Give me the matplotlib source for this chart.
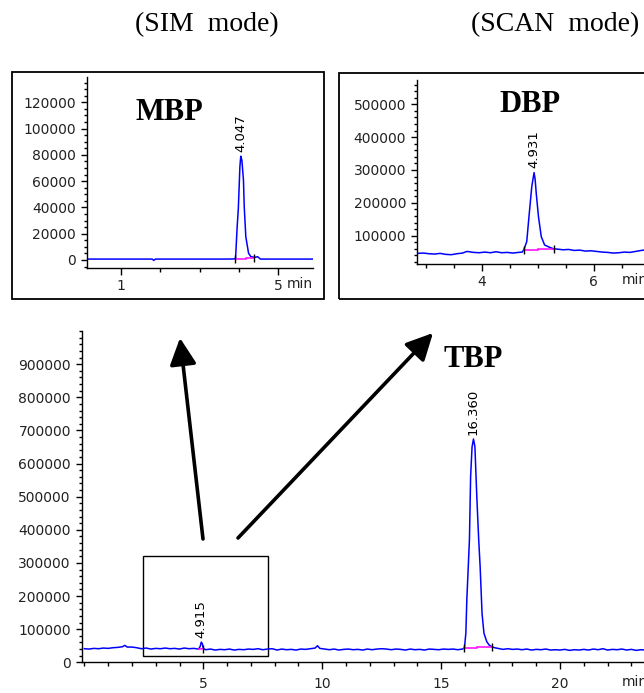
import matplotlib
matplotlib.use("Agg")
import matplotlib.pyplot as plt
from matplotlib.patches import Rectangle, FancyArrowPatch
from matplotlib.ticker import MultipleLocator, FixedLocator

# ---------------- data ----------------
# Main chromatogram (SCAN, full run)
main_t = [0.0, 0.2, 0.4, 0.6, 0.8, 1.0, 1.2, 1.4, 1.6, 1.7, 1.8, 2.0, 2.2, 2.4, 2.6, 2.8,
          3.0, 3.2, 3.4, 3.6, 3.8, 4.0, 4.2, 4.4, 4.6, 4.8, 4.87, 4.915, 4.96, 5.0, 5.1,
          5.3, 5.5, 5.7, 5.9, 6.1, 6.3, 6.5, 6.7, 6.9, 7.1, 7.3, 7.5, 7.7, 7.9, 8.1, 8.3,
          8.5, 8.7, 8.9, 9.1, 9.3, 9.5, 9.7, 9.8, 9.9, 10.1, 10.3, 10.5, 10.7, 10.9, 11.1,
          11.3, 11.5, 11.7, 11.9, 12.1, 12.3, 12.5, 12.7, 12.9, 13.1, 13.3, 13.5, 13.7,
          13.9, 14.1, 14.3, 14.5, 14.7, 14.9, 15.1, 15.3, 15.5, 15.7, 15.9, 15.98, 16.04,
          16.08, 16.19, 16.24, 16.30, 16.36, 16.42, 16.50, 16.58, 16.64, 16.72, 16.80,
          16.92, 17.02, 17.13, 17.25, 17.4, 17.6, 17.8, 18.0, 18.2, 18.4, 18.6, 18.8, 19.0,
          19.2, 19.4, 19.6, 19.8, 20.0, 20.2, 20.4, 20.6, 20.8, 21.0, 21.2, 21.4, 21.6,
          21.8, 22.0, 22.2, 22.4, 22.6, 22.8, 23.0, 23.2, 23.4, 23.6]
main_y = [41000, 40000, 42000, 41000, 43000, 42000, 44000, 45000, 47000, 51000, 46000,
          46000, 44000, 41000, 43000, 40000, 42000, 41000, 43000, 41000, 42000, 40000,
          43000, 41000, 42000, 40000, 48000, 61000, 56000, 42000, 38000, 40000, 37000,
          39000, 38000, 40000, 37000, 39000, 38000, 40000, 39000, 41000, 38000, 40000,
          41000, 37000, 40000, 38000, 39000, 37000, 40000, 39000, 41000, 43000, 50000,
          42000, 40000, 38000, 40000, 37000, 39000, 40000, 38000, 39000, 37000, 40000,
          38000, 40000, 41000, 40000, 38000, 40000, 39000, 37000, 40000, 38000, 39000,
          37000, 40000, 39000, 38000, 40000, 39000, 40000, 38000, 40000, 43000, 88000,
          188000, 370000, 561000, 650000, 674000, 651000, 500000, 370000, 289000, 148000,
          88000, 62000, 52000, 47000, 44000, 42000, 39000, 41000, 39000, 40000, 38000,
          40000, 37000, 39000, 38000, 40000, 37000, 38000, 37000, 39000, 36000, 38000,
          37000, 39000, 37000, 40000, 38000, 41000, 37000, 39000, 38000, 40000, 37000,
          39000, 36000, 38000, 37000]
main_peaks = ["4.915", "16.360"]
main_peak_t = [4.915, 16.36]
main_peak_y = [61000, 674000]
main_base_t = [[4.78, 5.0], [15.98, 16.50], [16.50, 17.13]]
main_base_y = [[40000, 41000], [42000, 42000], [46000, 46000]]
main_marks_t = [5.0, 15.98, 17.13]
main_marks_y = [41000, 42000, 46000]

# MBP inset (SIM mode)
mbp_t = [0.14, 0.5, 1.0, 1.5, 1.8, 1.84, 1.88, 2.2, 2.6, 3.0, 3.4, 3.7, 3.88, 3.915, 3.955,
         3.985, 4.025, 4.047, 4.075, 4.115, 4.135, 4.175, 4.245, 4.305, 4.40, 4.475,
         4.545, 4.9, 5.3, 5.88]
mbp_y = [700, 700, 700, 700, 700, -300, 700, 700, 700, 700, 700, 700, 800, 1300, 25000,
         39000, 71000, 79000, 76000, 61000, 40500, 17700, 5100, 2500, 2000, 2500, 700,
         700, 700, 700]
mbp_base_t = [[3.92, 4.19], [4.19, 4.36]]
mbp_base_y = [[700, 700], [1600, 1600]]
mbp_marks_t = [3.90, 4.38]
mbp_marks_y = [700, 1600]

# DBP inset (SCAN mode)
dbp_t = [2.84, 2.95, 3.05, 3.15, 3.25, 3.35, 3.45, 3.55, 3.65, 3.73, 3.85, 3.95, 4.05,
         4.15, 4.25, 4.35, 4.45, 4.55, 4.65, 4.72, 4.75, 4.80, 4.84, 4.89, 4.931, 4.95,
         4.97, 5.01, 5.06, 5.12, 5.21, 5.28, 5.35, 5.45, 5.55, 5.65, 5.75, 5.85, 5.95,
         6.05, 6.15, 6.25, 6.35, 6.45, 6.55, 6.65, 6.75, 6.85, 6.9]
dbp_y = [46000, 47000, 45000, 44000, 46000, 43000, 42000, 45000, 47000, 52000, 49000,
         48000, 50000, 48000, 51000, 48000, 49000, 47000, 49000, 50000, 58000, 82000,
         158000, 249000, 292000, 272000, 229000, 158000, 97000, 71500, 64500, 60000,
         59000, 57000, 58000, 55000, 56000, 53000, 54000, 52000, 50000, 49000, 47000,
         48000, 50000, 49000, 52000, 55000, 56000]
dbp_base_t = [[4.75, 5.0], [5.0, 5.28]]
dbp_base_y = [[56000, 56000], [59000, 59000]]
dbp_marks_t = [4.75, 5.28]
dbp_marks_y = [56000, 59000]

compounds = ["MBP", "DBP", "TBP"]
titles = ["(SIM  mode)", "(SCAN  mode)"]

# ---------------- styling ----------------
W, H = 644, 693
BLUE = "#0000ff"
MAG = "#ff00ff"

fig = plt.figure(figsize=(W / 100, H / 100), dpi=100)


def fx(px):
    return px / W


def fy(py):
    return 1 - py / H


def add_axes(l, r, t, b):
    return fig.add_axes([fx(l), fy(b), fx(r) - fx(l), (b - t) / H])


def style(ax, xpad=3):
    for s in ["top", "right"]:
        ax.spines[s].set_visible(False)
    for s in ["left", "bottom"]:
        ax.spines[s].set_linewidth(1.0)
    ax.tick_params(which="major", length=4, width=1, direction="out", pad=4,
                   labelsize=10, colors="black")
    ax.tick_params(which="minor", length=2.2, width=1, direction="out")
    ax.tick_params(axis="x", which="major", length=5, pad=xpad)
    ax.tick_params(axis="x", which="minor", length=3)
    for lab in ax.get_xticklabels() + ax.get_yticklabels():
        lab.set_family("DejaVu Sans")
        lab.set_color("#222222")
    ax.set_facecolor("none")


def min_label(ax, t, xpad=3):
    ax.annotate("min", xy=(t, 0), xycoords=("data", "axes fraction"),
                xytext=(0, -(5 * 0.72 + xpad)), textcoords="offset points",
                fontsize=10, family="DejaVu Sans", va="top", ha="left",
                color="#222222", annotation_clip=False)


def draw_trace(ax, t, y, base_t, base_y, marks_t, marks_y):
    ax.plot(t, y, color=BLUE, lw=1.1)
    for bt, by in zip(base_t, base_y):
        ax.plot(bt, by, color=MAG, lw=1.1)
    ax.plot(marks_t, marks_y, linestyle="none", marker="|", markersize=6,
            markeredgewidth=1.0, color="black")


# ---- main axes ----
ax = add_axes(82, 644, 331, 662.3)
draw_trace(ax, main_t, main_y, main_base_t, main_base_y, main_marks_t, main_marks_y)
ax.set_xlim(-0.1, 23.53)
ax.set_ylim(0, 1000000)
ax.yaxis.set_major_locator(FixedLocator(list(range(0, 1000000, 100000))))
ax.yaxis.set_minor_locator(MultipleLocator(20000))
ax.xaxis.set_major_locator(FixedLocator([5, 10, 15, 20]))
ax.xaxis.set_minor_locator(MultipleLocator(1))
style(ax, xpad=5.5)
min_label(ax, 22.6, xpad=5.5)
for lab, pt, py in zip(main_peaks, main_peak_t, main_peak_y):
    ax.annotate(lab, (pt, py), xytext=(0, 3), textcoords="offset points",
                rotation=90, ha="center", va="bottom", fontsize=9.5, family="DejaVu Sans")
ax.add_patch(Rectangle((2.46, 19000), 7.72 - 2.46, 321000 - 19000, fill=False,
                       edgecolor="black", lw=1.0))
ax.text(16.36, 0.915, compounds[2], transform=ax.get_xaxis_transform(), fontsize=22,
        family="Liberation Serif", weight="bold", ha="center", va="center")

# ---- inset 1: MBP ----
fig.add_artist(Rectangle((fx(12), fy(299)), fx(324) - fx(12), (299 - 72) / H,
                         transform=fig.transFigure, fill=False, edgecolor="black", lw=1.3))
a1 = add_axes(87, 313, 77, 268)
draw_trace(a1, mbp_t, mbp_y, mbp_base_t, mbp_base_y, mbp_marks_t, mbp_marks_y)
a1.set_xlim(0.145, 5.88)
a1.set_ylim(-6100, 139300)
a1.yaxis.set_major_locator(FixedLocator(list(range(0, 140000, 20000))))
a1.yaxis.set_minor_locator(MultipleLocator(5000))
a1.xaxis.set_major_locator(FixedLocator([1, 5]))
a1.xaxis.set_minor_locator(FixedLocator([2, 3, 4]))
style(a1)
min_label(a1, 5.21)
a1.annotate("4.047", (4.047, 79000), xytext=(0, 3), textcoords="offset points",
            rotation=90, ha="center", va="bottom", fontsize=9.5, family="DejaVu Sans")
fig.text(fx(169), fy(112), compounds[0], fontsize=22, family="Liberation Serif",
         weight="bold", ha="center", va="center")

# ---- inset 2: DBP ----
fig.add_artist(Rectangle((fx(339), fy(299)), fx(700) - fx(339), (299 - 73) / H,
                         transform=fig.transFigure, fill=False, edgecolor="black", lw=1.3))
a2 = add_axes(417.3, 644, 80, 264)
draw_trace(a2, dbp_t, dbp_y, dbp_base_t, dbp_base_y, dbp_marks_t, dbp_marks_y)
a2.set_xlim(2.84, 6.9)
a2.set_ylim(13700, 574000)
a2.yaxis.set_major_locator(FixedLocator(list(range(100000, 600000, 100000))))
a2.yaxis.set_minor_locator(MultipleLocator(20000))
a2.xaxis.set_major_locator(FixedLocator([4, 6]))
a2.xaxis.set_minor_locator(MultipleLocator(0.5))
style(a2)
min_label(a2, 6.50)
a2.annotate("4.931", (4.931, 292000), xytext=(0, 3), textcoords="offset points",
            rotation=90, ha="center", va="bottom", fontsize=9.5, family="DejaVu Sans")
fig.text(fx(530), fy(105), compounds[1], fontsize=22, family="Liberation Serif",
         weight="bold", ha="center", va="center")

# ---- titles ----
fig.text(fx(207), fy(25), titles[0], fontsize=20, family="Liberation Serif",
         ha="center", va="center")
fig.text(fx(555), fy(25), titles[1], fontsize=20, family="Liberation Serif",
         ha="center", va="center")

# ---- arrows ----
for (x0, y0), (x1, y1) in [((203, 539), (180, 338)), ((238, 538), (433, 333))]:
    fig.add_artist(FancyArrowPatch((fx(x0), fy(y0)), (fx(x1), fy(y1)),
                                   transform=fig.transFigure,
                                   arrowstyle="-|>,head_length=0.9,head_width=0.45",
                                   mutation_scale=18, lw=2.6, color="black",
                                   shrinkA=0, shrinkB=0))

fig.savefig("out.png", dpi=100)
